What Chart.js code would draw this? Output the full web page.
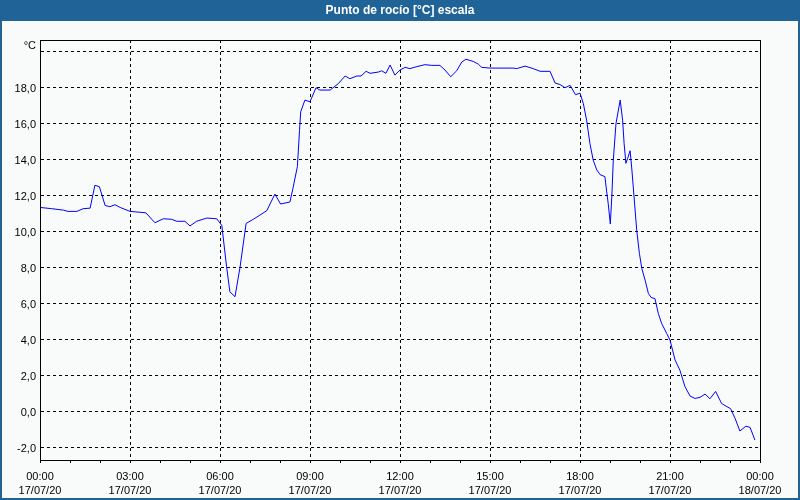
<!DOCTYPE html>
<html>
<head>
<meta charset="utf-8">
<script src="https://cdn.jsdelivr.net/npm/chart.js@4/dist/chart.umd.min.js"></script>
<style>
html,body{margin:0;padding:0;background:#1f6397;}
canvas{display:block;}
</style>
</head>
<body>
<canvas id="c" width="800" height="500"></canvas>
<script>
// Hours since 00:00 17/07/20
const hours = [0,0.39,0.78,0.93,1.23,1.44,1.67,1.83,1.98,2.17,2.33,2.5,2.67,3.0,3.53,3.83,4.11,4.39,4.56,4.83,5.0,5.22,5.56,5.89,6.06,6.22,6.33,6.5,6.67,6.87,7.11,7.56,7.83,8.02,8.33,8.42,8.58,8.65,8.69,8.83,9.0,9.2,9.33,9.67,9.94,10.17,10.33,10.56,10.7,10.87,11.0,11.28,11.39,11.53,11.67,11.83,12.0,12.17,12.33,12.56,12.83,13.06,13.33,13.5,13.69,13.89,14.06,14.2,14.44,14.61,14.72,15.0,15.77,15.89,16.17,16.44,16.67,17.0,17.17,17.33,17.5,17.67,17.85,18.0,18.11,18.22,18.33,18.44,18.56,18.67,18.83,18.89,18.94,19.01,19.06,19.11,19.2,19.28,19.34,19.42,19.47,19.53,19.59,19.67,19.73,19.81,19.89,19.98,20.06,20.17,20.28,20.37,20.5,20.61,20.72,20.89,21.0,21.17,21.33,21.5,21.67,21.83,22.0,22.17,22.33,22.52,22.72,22.87,23.02,23.17,23.33,23.53,23.67,23.83];
// Dew point [°C]
const dewPoint = [11.33,11.26,11.18,11.11,11.11,11.26,11.29,12.56,12.48,11.44,11.37,11.48,11.33,11.11,11.03,10.48,10.70,10.67,10.56,10.56,10.30,10.56,10.74,10.70,10.33,8.03,6.64,6.37,8.03,10.44,10.67,11.15,12.07,11.52,11.63,12.3,13.6,15.6,16.64,17.29,17.2,17.98,17.85,17.85,18.2,18.63,18.48,18.63,18.63,18.89,18.78,18.85,18.92,18.78,19.24,18.68,18.96,19.11,19.04,19.15,19.26,19.22,19.22,18.96,18.59,18.92,19.41,19.56,19.44,19.29,19.11,19.07,19.07,19.04,19.18,19.04,18.89,18.89,18.24,18.16,17.98,18.11,17.59,17.68,17.11,16.18,14.89,13.96,13.41,13.15,13.04,12.2,11.56,10.41,11.92,13.96,16.0,16.74,17.29,16.18,14.89,13.78,14.06,14.48,13.41,11.74,10.07,8.78,7.94,7.29,6.55,6.33,6.26,5.44,4.89,4.33,3.96,2.85,2.29,1.37,0.85,0.72,0.78,0.96,0.70,1.11,0.44,0.29,0.15,-0.39,-1.09,-0.82,-0.89,-1.59];
const xTickHours = [0,3,6,9,12,15,18,21,24];
const xTickTimes = ['00:00','03:00','06:00','09:00','12:00','15:00','18:00','21:00','00:00'];
const xTickDates = ['17/07/20','17/07/20','17/07/20','17/07/20','17/07/20','17/07/20','17/07/20','17/07/20','18/07/20'];
const yTicks = [-2,0,2,4,6,8,10,12,14,16,18,20];
const yUnit = '°C';
const titleText = 'Punto de rocío [°C] escala';

const FONT = "'Liberation Sans', Arial, sans-serif";

const framePlugin = {
  id: 'frame',
  beforeDraw(chart) {
    const ctx = chart.ctx;
    ctx.save();
    ctx.fillStyle = '#1f6397';
    ctx.fillRect(0, 0, 800, 500);
    ctx.fillStyle = '#f9fbfa';
    ctx.fillRect(2, 21, 796, 477);
    ctx.restore();
  },
  afterDraw(chart) {
    const a = chart.chartArea;
    const ctx = chart.ctx;
    ctx.save();
    ctx.strokeStyle = '#000';
    ctx.lineWidth = 1;
    ctx.strokeRect(Math.round(a.left) + 0.5, Math.round(a.top) + 0.5, Math.round(a.right - a.left), Math.round(a.bottom - a.top));
    ctx.restore();
  }
};

new Chart(document.getElementById('c'), {
  type: 'line',
  data: {
    datasets: [{
      data: hours.map((h, i) => ({x: h, y: dewPoint[i]})),
      borderColor: '#0000ff',
      borderWidth: 1,
      pointRadius: 0,
      tension: 0,
      fill: false,
      yAxisID: 'y'
    }]
  },
  options: {
    responsive: false,
    devicePixelRatio: 1,
    animation: false,
    layout: {padding: 0},
    plugins: {
      legend: {display: false},
      tooltip: {enabled: false},
      title: {
        display: true,
        text: titleText,
        color: '#ffffff',
        font: {family: FONT, size: 12, weight: 'bold', lineHeight: 1.2},
        padding: {top: 3.5, bottom: 22.1}
      }
    },
    scales: {
      x: {
        type: 'linear',
        min: 0,
        max: 24,
        afterBuildTicks(scale) {
          const t = [];
          for (let h = 0; h <= 24; h++) t.push({value: h});
          scale.ticks = t;
        },
        afterFit(scale) { scale.height = 40; },
        ticks: {
          autoSkip: false,
          maxRotation: 0,
          padding: 6,
          color: '#000',
          font: {family: FONT, size: 11, lineHeight: 1.36},
          callback(v) {
            const i = xTickHours.indexOf(v);
            return i >= 0 ? [xTickTimes[i], xTickDates[i]] : '';
          }
        },
        grid: {
          color: ctx => (ctx.tick && xTickHours.includes(ctx.tick.value)) ? '#000' : 'rgba(0,0,0,0)',
          tickColor: '#000',
          tickLength: 3,
          tickBorderDash: [],
          lineWidth: 1
        },
        border: {display: true, color: '#000', width: 1, dash: [3, 3]}
      },
      y: {
        type: 'linear',
        position: 'left',
        min: -2.7,
        max: 20.63,
        afterBuildTicks(scale) {
          scale.ticks = yTicks.map(v => ({value: v}));
        },
        afterFit(scale) { scale.width = 40; },
        ticks: {
          padding: 4,
          labelOffset: 1.5,
          color: '#000',
          font: {family: FONT, size: 11, lineHeight: 1.2},
          callback(v) {
            if (v === 20) return [yUnit, ''];
            return v.toFixed(1).replace('.', ',');
          }
        },
        grid: {
          color: '#000',
          drawTicks: false,
          lineWidth: 1
        },
        border: {display: true, color: '#000', width: 1, dash: [3, 3]}
      },
      yRight: {
        type: 'linear',
        position: 'right',
        min: -2.7,
        max: 20.63,
        afterFit(scale) { scale.width = 40; },
        ticks: {display: false},
        grid: {display: false, drawOnChartArea: false, drawTicks: false},
        border: {display: false}
      }
    }
  },
  plugins: [framePlugin]
});
</script>
</body>
</html>
